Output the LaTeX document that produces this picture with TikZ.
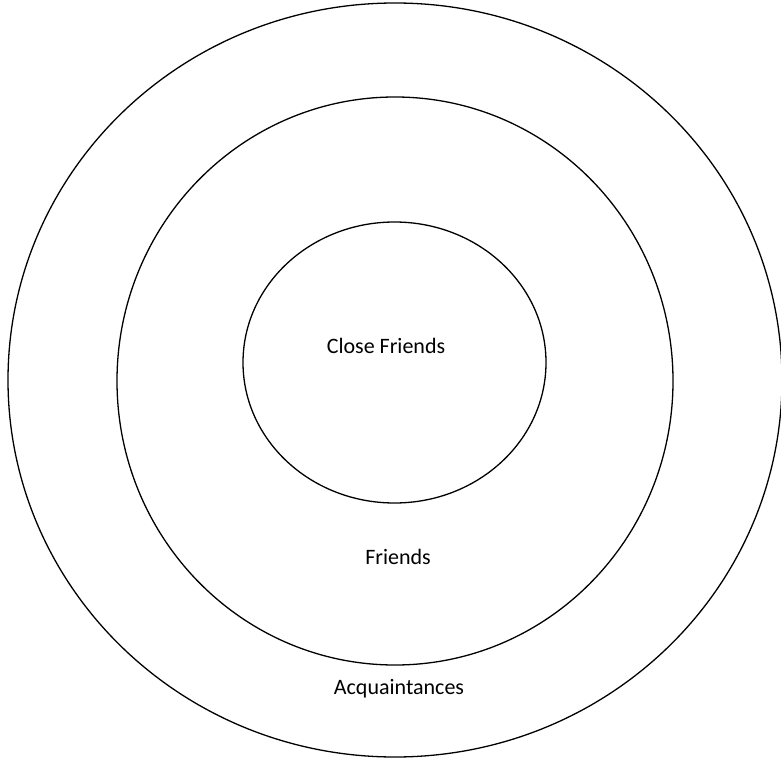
\documentclass[tikz,border=0pt]{standalone}
\usepackage{fontspec}
\setmainfont{Carlito}
\begin{document}
\begin{tikzpicture}[x=1pt,y=-1pt,
  ring/.style={draw=black,line width=1.3pt},
  lbl/.style={font=\fontsize{22}{26}\selectfont,inner sep=0pt}]
\useasboundingbox (0,0) rectangle (781,759);
\begin{scope}
\clip (0,0) rectangle (781,759);
\draw[ring] (395,380) ellipse [x radius=387, y radius=377];
\end{scope}
\draw[ring] (395,381) ellipse [x radius=278, y radius=284];
\draw[ring] (394.5,362.5) ellipse [x radius=151.5, y radius=140.5];
\node[lbl] (close) at (386,346) {Close Friends};
\node[lbl] (friends) at (398,557) {Friends};
\node[lbl] (acq) at (399,689) {Acquaintances};
\end{tikzpicture}
\end{document}
